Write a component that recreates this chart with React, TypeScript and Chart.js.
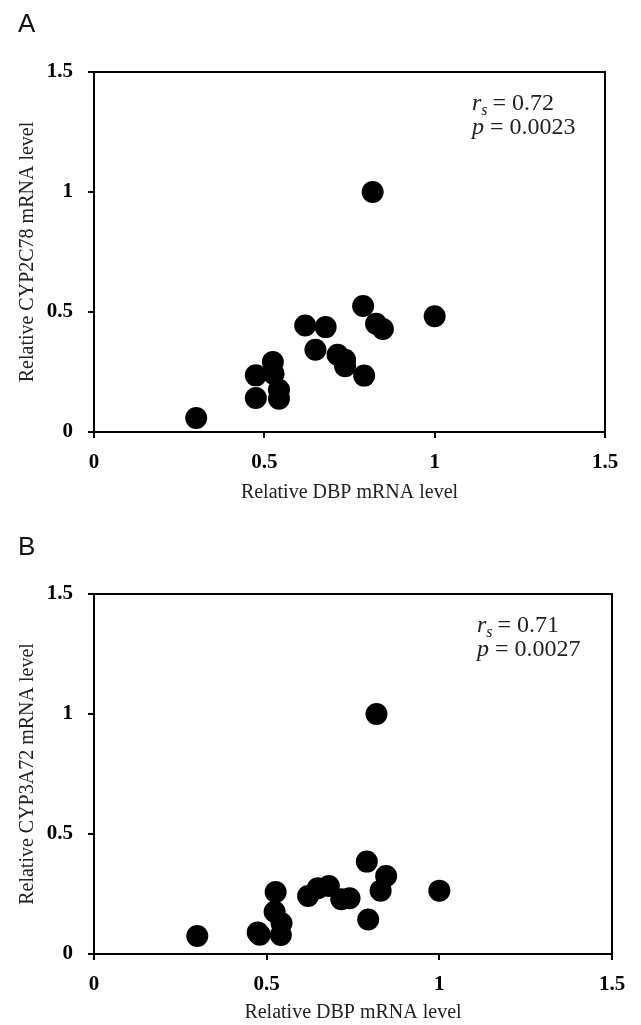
import React, { useEffect, useRef } from 'react';
import { Chart, registerables } from 'chart.js';

Chart.register(...registerables);

// ---- data ----
const axisTicks = [0, 0.5, 1, 1.5];
const tickLabels = ['0', '0.5', '1', '1.5'];
const panelLetters = ['A', 'B'];
const xTitle = 'Relative DBP mRNA level';
const yTitles = ['Relative CYP2C78 mRNA level', 'Relative CYP3A72 mRNA level'];
const rsValues = ['0.72', '0.71'];
const pValues = ['0.0023', '0.0027'];

const dbpA = [0.30, 0.475, 0.475, 0.525, 0.527, 0.543, 0.543, 0.62, 0.68, 0.65, 0.715, 0.737, 0.737, 0.793, 0.79, 0.828, 0.848, 1.0, 0.818];
const cyp2c78 = [0.058, 0.236, 0.142, 0.292, 0.243, 0.176, 0.139, 0.444, 0.437, 0.343, 0.322, 0.301, 0.274, 0.235, 0.525, 0.451, 0.429, 0.482, 1.0];

const dbpB = [0.299, 0.474, 0.48, 0.526, 0.523, 0.543, 0.541, 0.62, 0.648, 0.68, 0.716, 0.74, 0.794, 0.79, 0.846, 0.83, 1.0, 0.818];
const cyp3a72 = [0.075, 0.09, 0.08, 0.258, 0.176, 0.128, 0.079, 0.242, 0.274, 0.283, 0.228, 0.232, 0.144, 0.385, 0.325, 0.264, 0.264, 1.0];

const SERIF = '"Liberation Serif", "Times New Roman", serif';
const SANS = '"Liberation Sans", Arial, sans-serif';

type PanelProps = {
  idx: number;
  xs: number[];
  ys: number[];
  top: number;
  height: number;
  padTop: number;
  padRight: number;
  xAxisHeight: number;
  xTitlePad: number;
  letterBaseline: number;
  annoX: number;
  annoY: number;
};

const fmt = (v: any) => {
  const i = axisTicks.indexOf(Number(v));
  return i >= 0 ? tickLabels[i] : '';
};

function Panel(p: PanelProps) {
  const ref = useRef<HTMLCanvasElement | null>(null);
  useEffect(() => {
    if (!ref.current) return;
    const points = p.xs.map((x, i) => ({ x, y: p.ys[i] }));
    const overlay = {
      id: 'overlay' + p.idx,
      afterDraw(chart: any) {
        const { ctx, chartArea } = chart;
        ctx.save();
        // top and right frame lines
        ctx.strokeStyle = '#000';
        ctx.lineWidth = 2;
        ctx.beginPath();
        ctx.moveTo(chartArea.left, chartArea.top);
        ctx.lineTo(chartArea.right, chartArea.top);
        ctx.lineTo(chartArea.right, chartArea.bottom);
        ctx.stroke();
        // panel letter
        ctx.fillStyle = '#111';
        ctx.textBaseline = 'alphabetic';
        ctx.textAlign = 'left';
        ctx.font = '26px ' + SANS;
        ctx.fillText(panelLetters[p.idx], 18, p.letterBaseline);
        // annotation
        ctx.fillStyle = '#222';
        let x = p.annoX;
        const y1 = p.annoY;
        ctx.font = 'italic 24px ' + SERIF;
        ctx.fillText('r', x, y1);
        x += ctx.measureText('r').width;
        ctx.font = 'italic 16px ' + SERIF;
        ctx.fillText('s', x, y1 + 5);
        x += ctx.measureText('s').width + 2;
        ctx.font = '24px ' + SERIF;
        ctx.fillText('= ' + rsValues[p.idx], x + 3, y1);
        const y2 = y1 + 24;
        x = p.annoX;
        ctx.font = 'italic 24px ' + SERIF;
        ctx.fillText('p', x, y2);
        x += ctx.measureText('p').width;
        ctx.font = '24px ' + SERIF;
        ctx.fillText(' = ' + pValues[p.idx], x, y2);
        ctx.restore();
      },
    };
    const tickFont = { family: SERIF, size: 21, weight: 'bold' as const };
    const titleFont = { family: SERIF, size: 20 };
    const chart = new Chart(ref.current, {
      type: 'scatter',
      data: {
        datasets: [
          {
            data: points,
            pointRadius: 11,
            pointHoverRadius: 11,
            backgroundColor: '#000',
            borderWidth: 0,
            pointStyle: 'circle',
          },
        ],
      },
      options: {
        animation: false,
        responsive: false,
        events: [],
        layout: { padding: { top: p.padTop, right: p.padRight, left: 0, bottom: 0 } },
        plugins: { legend: { display: false }, tooltip: { enabled: false } },
        scales: {
          x: {
            type: 'linear',
            min: axisTicks[0],
            max: axisTicks[axisTicks.length - 1],
            afterBuildTicks: (s: any) => {
              s.ticks = axisTicks.map((v) => ({ value: v }));
            },
            afterFit: (s: any) => {
              s.height = p.xAxisHeight;
            },
            ticks: { font: tickFont, color: '#000', padding: 12, maxRotation: 0, callback: fmt },
            grid: { drawOnChartArea: false, drawTicks: true, tickLength: 6, color: '#000', lineWidth: 2 },
            border: { display: true, color: '#000', width: 2 },
            title: { display: true, text: xTitle, font: titleFont, color: '#222', padding: { top: 0, bottom: p.xTitlePad } },
          },
          y: {
            type: 'linear',
            min: axisTicks[0],
            max: axisTicks[axisTicks.length - 1],
            afterBuildTicks: (s: any) => {
              s.ticks = axisTicks.map((v) => ({ value: v }));
            },
            afterFit: (s: any) => {
              s.width = 94;
            },
            ticks: { font: tickFont, color: '#000', padding: 15, callback: fmt },
            grid: { drawOnChartArea: false, drawTicks: true, tickLength: 6, color: '#000', lineWidth: 2 },
            border: { display: true, color: '#000', width: 2 },
            title: { display: true, text: yTitles[p.idx], font: titleFont, color: '#222', padding: { top: 16, bottom: 0 } },
          },
        },
      },
      plugins: [overlay],
    });
    return () => chart.destroy();
  }, []);
  return (
    <canvas
      ref={ref}
      width={641}
      height={p.height}
      style={{ position: 'absolute', left: 0, top: p.top, width: 641, height: p.height }}
    />
  );
}

export default function App() {
  return (
    <div style={{ position: 'absolute', left: 0, top: 0, width: 641, height: 1025, background: '#fff' }}>
      <Panel
        idx={0}
        xs={dbpA}
        ys={cyp2c78}
        top={0}
        height={520}
        padTop={72}
        padRight={36}
        xAxisHeight={88}
        xTitlePad={15}
        letterBaseline={32}
        annoX={472}
        annoY={110}
      />
      <Panel
        idx={1}
        xs={dbpB}
        ys={cyp3a72}
        top={520}
        height={505}
        padTop={74}
        padRight={29}
        xAxisHeight={71}
        xTitlePad={0}
        letterBaseline={35}
        annoX={477}
        annoY={112}
      />
    </div>
  );
}
